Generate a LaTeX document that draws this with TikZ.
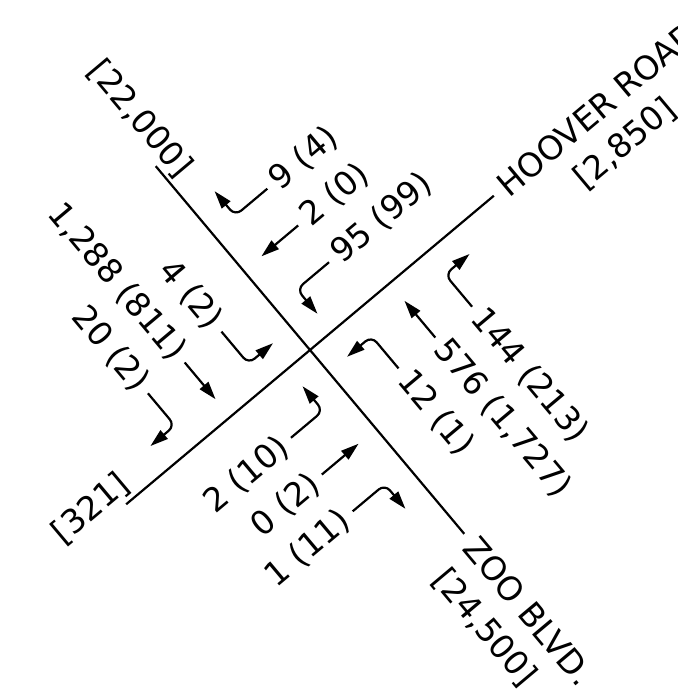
\documentclass[tikz,border=0pt]{standalone}
\usepackage{fontspec}
\setmainfont{DejaVu Sans}
\usetikzlibrary{arrows.meta}

\begin{document}
\begin{tikzpicture}[x=0.5pt, y=0.5pt,
	roadline/.style={line width=1.1pt},
	movearrow/.style={line width=1.1pt, rounded corners=4pt, -{Triangle[length=9pt, width=5.5pt]}},
	countlabel/.style={inner sep=4pt, font=\fontsize{16.5}{19}\selectfont},
	streetlabel/.style={inner sep=0pt, font=\fontsize{16.5}{19}\selectfont}]
		%%%%% START %%%%%
		\useasboundingbox (0, 0) rectangle (678, -691);
		
		\begin{scope}[shift={(310, -350)}, rotate=40, transform shape]
		
		% roads
		\draw[roadline] (0, 240) -- (0, -240);
		\draw[roadline] (-240, 0) -- (240, 0);
		
		% street names and volumes
		\node[streetlabel, inner sep=5pt, anchor=west] (hoover) at (240, 0) {HOOVER ROAD};
		\node[streetlabel, anchor=base] (hooveradt) at (374, -55) {[2,850]};
		\node[streetlabel, anchor=base east] (hooverwadt) at (-225, 9) {[321]};
		\node[streetlabel, inner sep=5pt, rotate=-90, anchor=west] (zoo) at (0, -240) {ZOO BLVD.};
		\node[streetlabel, rotate=-90, anchor=base west] (zooadt) at (-55, -254) {[24,500]};
		\node[streetlabel, rotate=-90, anchor=base east] (zoonadt) at (8, 215) {[22,000]};
		
		% upper approach
		\node[countlabel, anchor=west] (a1) at (71, 151) {9 (4)};
		\node[countlabel, anchor=west] (a2) at (71, 103) {2 (0)};
		\node[countlabel, anchor=west] (a3) at (71, 55) {95 (99)};
		\draw[movearrow] (a1.west) -- ++(-42, 0) -- ++(0, 32);
		\draw[movearrow] (a2.west) -- ++(-48, 0);
		\draw[movearrow] (a3.west) -- ++(-42, 0) -- ++(0, -32);
		
		% right approach
		\node[countlabel, rotate=-90, anchor=west] (d1) at (152, -71) {144 (213)};
		\node[countlabel, rotate=-90, anchor=west] (d2) at (104, -71) {576 (1,727)};
		\node[countlabel, rotate=-90, anchor=west] (d3) at (56, -71) {12 (1)};
		\draw[movearrow] (d1.west) -- ++(0, 42) -- ++(32, 0);
		\draw[movearrow] (d2.west) -- ++(0, 48);
		\draw[movearrow] (d3.west) -- ++(0, 42) -- ++(-32, 0);
		
		% lower approach
		\node[countlabel, anchor=east] (c1) at (-71, -151) {1 (11)};
		\node[countlabel, anchor=east] (c2) at (-71, -103) {0 (2)};
		\node[countlabel, anchor=east] (c3) at (-71, -55) {2 (10)};
		\draw[movearrow] (c1.east) -- ++(42, 0) -- ++(0, -32);
		\draw[movearrow] (c2.east) -- ++(48, 0);
		\draw[movearrow] (c3.east) -- ++(42, 0) -- ++(0, 32);
		
		% left approach
		\node[countlabel, rotate=-90, anchor=east] (b1) at (-152, 71) {20 (2)};
		\node[countlabel, rotate=-90, anchor=east] (b2) at (-104, 71) {1,288 (811)};
		\node[countlabel, rotate=-90, anchor=east] (b3) at (-56, 71) {4 (2)};
		\draw[movearrow] (b1.east) -- ++(0, -42) -- ++(-32, 0);
		\draw[movearrow] (b2.east) -- ++(0, -48);
		\draw[movearrow] (b3.east) -- ++(0, -42) -- ++(32, 0);
		
		\end{scope}
		%%%%% END %%%%%
\end{tikzpicture}
\end{document}
